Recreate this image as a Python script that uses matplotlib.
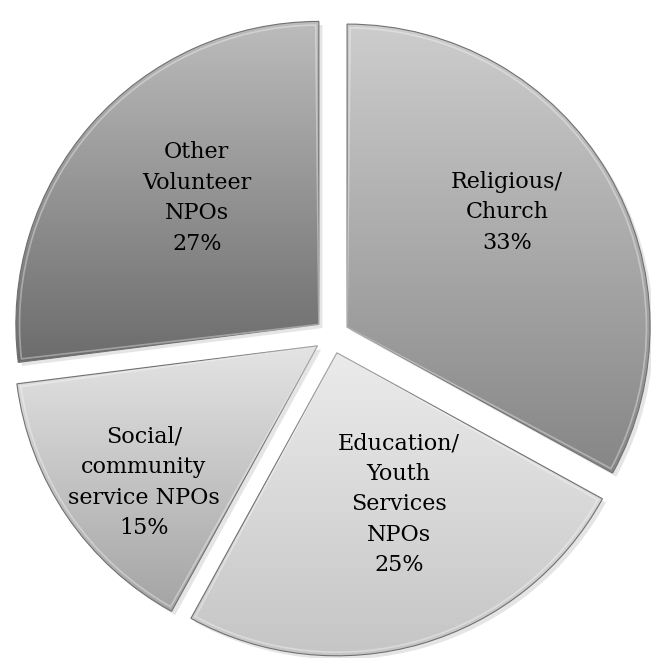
import numpy as np
import matplotlib
matplotlib.use("Agg")
import matplotlib.pyplot as plt
from matplotlib.patches import Wedge
from matplotlib import font_manager

labels = ["Religious/\nChurch", "Education/\nYouth\nServices\nNPOs",
          "Social/\ncommunity\nservice NPOs", "Other\nVolunteer\nNPOs"]
values = [33, 25, 15, 27]
pct_labels = ["33%", "25%", "15%", "27%"]

# styling
top_colors = ["#cdcdcd", "#ebebeb", "#e4e4e4", "#bcbcbc"]
bot_colors = ["#868686", "#c4c4c4", "#a4a4a4", "#6c6c6c"]
label_dist = [0.65, 0.54, 0.73, 0.58]
label_ang_shift = [5, 6, 4, -4.6]

names = {f.name for f in font_manager.fontManager.ttflist}
serif = "DejaVu Serif Condensed" if "DejaVu Serif Condensed" in names else "DejaVu Serif"
fsize = 17.8 if serif == "DejaVu Serif Condensed" else 16

W, H = 651, 658
R_PX = 303.0
CX, CY = 332.0, 336.0

fig = plt.figure(figsize=(W / 100, H / 100), dpi=100)
ax = fig.add_axes([0, 0, 1, 1])

explode = [17.5 / R_PX] * 4
wedges, _ = ax.pie(values, startangle=90, counterclock=False, explode=explode,
                   radius=1.0, wedgeprops=dict(linewidth=0))
ax.set_aspect("auto")
ax.axis("off")

def hex2rgb(h):
    h = h.lstrip("#")
    return np.array([int(h[i:i + 2], 16) / 255 for i in (0, 2, 4)])

for i, w in enumerate(wedges):
    w.set_facecolor("none")
    w.set_edgecolor("#707070")
    w.set_linewidth(0.8)
    w.set_zorder(3)
    s = Wedge((w.center[0] + 0.012, w.center[1] - 0.012), w.r, w.theta1, w.theta2,
              facecolor="#000000", alpha=0.10, linewidth=0, zorder=1)
    ax.add_patch(s)
    verts = w.get_path().vertices
    x0, x1 = verts[:, 0].min(), verts[:, 0].max()
    y0, y1 = verts[:, 1].min(), verts[:, 1].max()
    t = np.linspace(0, 1, 256)[:, None]
    c0, c1 = hex2rgb(top_colors[i]), hex2rgb(bot_colors[i])
    grad = (c0[None, :] * (1 - t) + c1[None, :] * t)[:, None, :]
    im = ax.imshow(grad, extent=[x0, x1, y0, y1], origin="upper",
                   aspect="auto", zorder=2, interpolation="bilinear")
    im.set_clip_path(w)
    hl = Wedge(w.center, w.r - 0.012, w.theta1 + 0.6, w.theta2 - 0.6,
               facecolor="none", edgecolor="#ffffff", alpha=0.35,
               linewidth=1.2, zorder=3)
    ax.add_patch(hl)

ax.set_xlim(-CX / R_PX, (W - CX) / R_PX)
ax.set_ylim(-(H - CY) / R_PX, CY / R_PX)

theta = 90.0
for i, v in enumerate(values):
    span = v / sum(values) * 360
    mid = theta - span / 2 + label_ang_shift[i]
    theta -= span
    w = wedges[i]
    ang = np.deg2rad(mid)
    x = w.center[0] + label_dist[i] * np.cos(ang)
    y = w.center[1] + label_dist[i] * np.sin(ang)
    ax.text(x, y, labels[i] + "\n" + pct_labels[i], ha="center", va="center",
            fontsize=fsize, family=serif, color="#000000",
            linespacing=1.5, zorder=5)

fig.savefig("out.png", dpi=100, facecolor="white")
